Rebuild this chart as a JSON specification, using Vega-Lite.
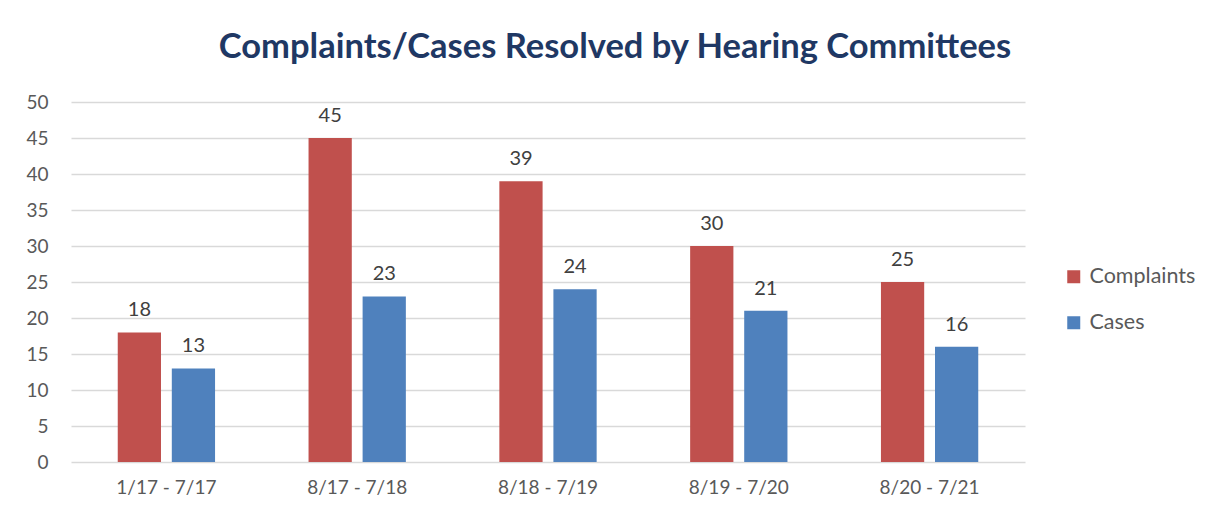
{
  "$schema": "https://vega.github.io/schema/vega-lite/v6.json",
  "autosize": {"type": "none"},
  "width": 954,
  "height": 360,
  "padding": {"left": 71, "top": 102, "right": 190, "bottom": 59},
  "background": "white",
  "title": {
    "text": "Complaints/Cases Resolved by Hearing Committees",
    "font": "Lato",
    "fontSize": 34.5,
    "fontWeight": "bold",
    "color": "#1F3864",
    "anchor": "middle",
    "dx": 67,
    "offset": 28
  },
  "data": {
    "values": [
      {"period": "1/17 - 7/17", "series": "Complaints", "value": 18},
      {"period": "1/17 - 7/17", "series": "Cases", "value": 13},
      {"period": "8/17 - 7/18", "series": "Complaints", "value": 45},
      {"period": "8/17 - 7/18", "series": "Cases", "value": 23},
      {"period": "8/18 - 7/19", "series": "Complaints", "value": 39},
      {"period": "8/18 - 7/19", "series": "Cases", "value": 24},
      {"period": "8/19 - 7/20", "series": "Complaints", "value": 30},
      {"period": "8/19 - 7/20", "series": "Cases", "value": 21},
      {"period": "8/20 - 7/21", "series": "Complaints", "value": 25},
      {"period": "8/20 - 7/21", "series": "Cases", "value": 16}
    ]
  },
  "encoding": {
    "x": {
      "field": "period", "type": "nominal", "sort": null,
      "scale": {"paddingInner": 0.49, "paddingOuter": 0.245},
      "axis": {"title": null, "labelAngle": 0, "ticks": false, "domain": false, "labelPadding": 16,
               "labelFont": "Lato", "labelFontSize": 19, "labelColor": "#595959", "grid": false}
    },
    "xOffset": {
      "field": "series", "type": "nominal", "sort": ["Complaints", "Cases"],
      "scale": {"paddingInner": 0.2, "paddingOuter": 0}
    },
    "y": {
      "field": "value", "type": "quantitative",
      "scale": {"domain": [0, 50], "nice": false},
      "axis": {"title": null, "values": [0, 5, 10, 15, 20, 25, 30, 35, 40, 45, 50], "ticks": false, "domain": false,
               "labelPadding": 23, "labelFont": "Lato", "labelFontSize": 19, "labelColor": "#595959",
               "gridColor": "#D9D9D9", "gridWidth": 1.3}
    }
  },
  "layer": [
    {
      "mark": {"type": "bar"},
      "encoding": {
        "color": {
          "field": "series", "type": "nominal", "sort": ["Complaints", "Cases"],
          "scale": {"domain": ["Complaints", "Cases"], "range": ["#C0504D", "#4F81BD"]},
          "legend": {
            "title": null, "orient": "none", "legendX": 992, "legendY": 164,
            "symbolType": "square", "symbolSize": 169, "symbolStrokeWidth": 0,
            "labelFont": "Lato", "labelFontSize": 21.5, "labelColor": "#595959",
            "rowPadding": 23, "labelOffset": 5
          }
        }
      }
    },
    {
      "mark": {"type": "text", "baseline": "alphabetic", "dy": -16, "font": "Lato", "fontSize": 20, "color": "#404040"},
      "encoding": {
        "text": {"field": "value", "type": "quantitative"}
      }
    }
  ],
  "config": {"view": {"stroke": null}}
}
